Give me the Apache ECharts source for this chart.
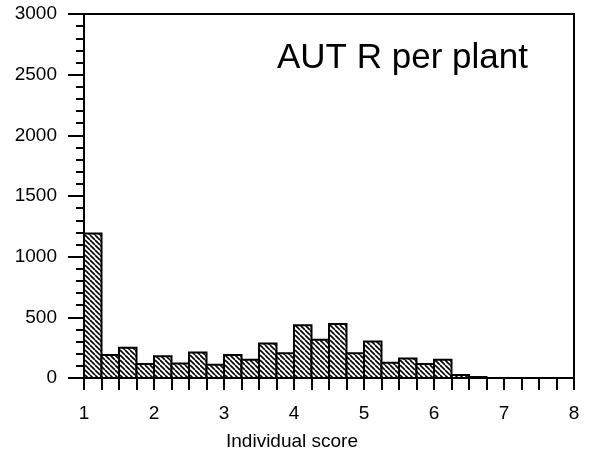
<!DOCTYPE html>
<html>
<head>
<meta charset="utf-8">
<script src="https://cdn.jsdelivr.net/npm/echarts@6/dist/echarts.min.js"></script>
<style>
  html, body { margin: 0; padding: 0; background: #fff; }
  #chart { width: 593px; height: 458px; }
</style>
</head>
<body>
<div id="chart"></div>
<script>
// Histogram of individual AUT R scores per plant (bins of width 0.25)
const binStarts = [1.00, 1.25, 1.50, 1.75, 2.00, 2.25, 2.50, 2.75, 3.00, 3.25, 3.50, 3.75,
                   4.00, 4.25, 4.50, 4.75, 5.00, 5.25, 5.50, 5.75, 6.00, 6.25, 6.50];
const counts    = [1190, 190, 250, 115, 180, 120, 210, 110, 190, 150, 285, 205,
                   435, 315, 445, 205, 300, 125, 160, 115, 150, 25, 8];
const binWidth = 0.25;
const xTicks = [1, 2, 3, 4, 5, 6, 7, 8];
const yTicks = [0, 500, 1000, 1500, 2000, 2500, 3000];
const chartTitle = 'AUT R per plant';
const xAxisTitle = 'Individual score';

// Diagonal hatch tile used to fill every bar
function makeHatch() {
  const size = 5;
  const c = document.createElement('canvas');
  c.width = size; c.height = size;
  const g = c.getContext('2d');
  g.fillStyle = '#fff';
  g.fillRect(0, 0, size, size);
  g.strokeStyle = '#000';
  g.lineWidth = 1.6;
  for (const k of [-size, 0, size]) {
    g.beginPath();
    g.moveTo(k, 0);
    g.lineTo(k + size, size);
    g.stroke();
  }
  return c;
}
const hatch = makeHatch();

const chart = echarts.init(document.getElementById('chart'), null, { renderer: 'canvas' });
const font = 'Liberation Sans, Arial, Helvetica, sans-serif';

chart.setOption({
  animation: false,
  backgroundColor: '#fff',
  title: {
    text: chartTitle,
    left: 277,
    top: 41,
    padding: 0,
    textStyle: { fontFamily: font, fontSize: 35, fontWeight: 'normal', color: '#000' }
  },
  grid: {
    left: 84, right: 19, top: 14, bottom: 80,
    show: true, borderColor: '#000', borderWidth: 2, backgroundColor: 'transparent'
  },
  xAxis: {
    type: 'value',
    min: xTicks[0], max: xTicks[xTicks.length - 1], interval: 1,
    axisLine: { show: true, lineStyle: { color: '#000', width: 2 } },
    axisTick: { show: true, inside: false, length: 12, lineStyle: { color: '#000', width: 2 } },
    minorTick: { show: true, splitNumber: 4, length: 12, lineStyle: { color: '#000', width: 2 } },
    splitLine: { show: false },
    axisLabel: { margin: 26, fontFamily: font, fontSize: 19, color: '#000',
                 formatter: v => String(v) }
  },
  yAxis: {
    type: 'value',
    min: yTicks[0], max: yTicks[yTicks.length - 1], interval: 500,
    axisLine: { show: true, lineStyle: { color: '#000', width: 2 } },
    axisTick: { show: true, inside: false, length: 16, lineStyle: { color: '#000', width: 2 } },
    minorTick: { show: true, splitNumber: 5, length: 8, lineStyle: { color: '#000', width: 2 } },
    splitLine: { show: false },
    axisLabel: { margin: 27, fontFamily: font, fontSize: 19, color: '#000',
                 formatter: v => String(v) }
  },
  graphic: [{
    type: 'text',
    x: 292, y: 442,
    style: {
      text: xAxisTitle, fill: '#000',
      font: '19px ' + font,
      align: 'center', verticalAlign: 'middle'
    }
  }],
  series: [{
    type: 'custom',
    data: binStarts.map((x, i) => [x, counts[i]]),
    renderItem: function (params, api) {
      const x0 = api.value(0);
      const v = api.value(1);
      const topLeft = api.coord([x0, v]);
      const bottomRight = api.coord([x0 + binWidth, 0]);
      return {
        type: 'rect',
        shape: {
          x: topLeft[0], y: topLeft[1],
          width: bottomRight[0] - topLeft[0],
          height: bottomRight[1] - topLeft[1]
        },
        style: {
          fill: { image: hatch, repeat: 'repeat' },
          stroke: '#000', lineWidth: 2
        }
      };
    }
  }]
});
</script>
</body>
</html>
